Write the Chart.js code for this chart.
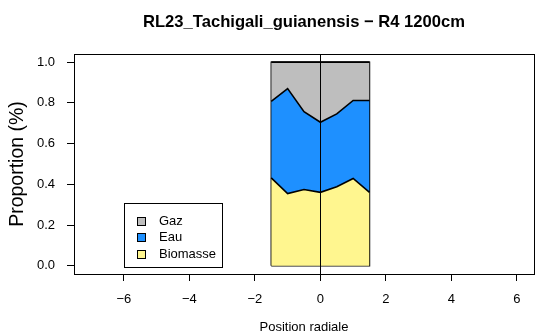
<!DOCTYPE html>
<html>
<head>
<meta charset="utf-8">
<script src="https://cdn.jsdelivr.net/npm/chart.js@4/dist/chart.umd.min.js"></script>
<style>
  html, body { margin: 0; padding: 0; background: #fff; }
  #wrap { width: 540px; height: 334px; }
</style>
</head>
<body>
<div id="wrap"><canvas id="c" width="540" height="334"></canvas></div>
<script>
// radial positions of the samples
const positions = [-1.5, -1, -0.5, 0, 0.5, 1, 1.5];
// proportions of each component at those positions
const biomasse = [0.432, 0.355, 0.375, 0.361, 0.388, 0.429, 0.361];
const eau      = [0.375, 0.515, 0.382, 0.344, 0.358, 0.383, 0.451];
const gaz      = [0.193, 0.130, 0.243, 0.295, 0.254, 0.188, 0.188];

const xTicks = [-6, -4, -2, 0, 2, 4, 6];
const yTicks = [0, 0.2, 0.4, 0.6, 0.8, 1.0];
const xRange = [-7.52, 6.52];
const yRange = [-0.04, 1.04];

const titre = 'RL23_Tachigali_guianensis \u2212 R4 1200cm';
const legende = [
  { label: 'Gaz', color: '#BEBEBE' },
  { label: 'Eau', color: '#1E90FF' },
  { label: 'Biomasse', color: '#FFF68F' },
];

const FONT = '"Liberation Sans", Arial, Helvetica, sans-serif';

// running totals so each layer sits on the one below
function cumul(layers){
  const out = [];
  let acc = positions.map(() => 0);
  for (const l of layers){
    acc = acc.map((v, i) => v + l[i]);
    out.push(acc.slice());
  }
  return out;
}
const [topBio, topEau, topGaz] = cumul([biomasse, eau, gaz]);
const pts = (ys) => positions.map((x, i) => ({ x, y: ys[i] }));

const x0 = positions[0], x1 = positions[positions.length - 1];
const cadre = [{x:x0,y:0},{x:x0,y:topGaz[0]},{x:x1,y:topGaz[topGaz.length-1]},{x:x1,y:0},{x:x0,y:0}];

const layer = (label, data, color, fill) => ({
  label, data, fill,
  backgroundColor: color,
  borderColor: '#000',
  borderWidth: 1.6,
  pointRadius: 0,
  tension: 0,
});

// box, vertical reference line, titles and legend, R style
const decor = {
  id: 'decor',
  afterDatasetsDraw(chart){
    const { ctx, chartArea: a, scales } = chart;
    ctx.save();
    ctx.strokeStyle = '#000';
    ctx.lineWidth = 1;
    const xz = Math.round(scales.x.getPixelForValue(0)) + 0.5;
    ctx.beginPath(); ctx.moveTo(xz, a.top); ctx.lineTo(xz, a.bottom); ctx.stroke();
    ctx.strokeRect(Math.round(a.left) + 0.5, Math.round(a.top) + 0.5, Math.round(a.right - a.left), Math.round(a.bottom - a.top));

    // legend
    const lx = 124.5, ly = 203.5, lw = 98, lh = 64;
    ctx.fillStyle = '#fff';
    ctx.fillRect(lx, ly, lw, lh);
    ctx.strokeRect(lx, ly, lw, lh);
    ctx.font = '13px ' + FONT;
    ctx.textBaseline = 'middle';
    ctx.textAlign = 'left';
    legende.forEach((it, i) => {
      const cy = 220.5 + i * 16.5;
      ctx.fillStyle = it.color;
      ctx.fillRect(137.5, Math.round(cy - 4) + 0.5, 8, 8);
      ctx.strokeRect(137.5, Math.round(cy - 4) + 0.5, 8, 8);
      ctx.fillStyle = '#000';
      ctx.fillText(it.label, 159, cy + 0.5);
    });

    const cx = (a.left + a.right) / 2;
    ctx.textAlign = 'center';
    ctx.font = 'bold 16.6px ' + FONT;
    ctx.fillText(titre, cx, 22);
    ctx.font = '13px ' + FONT;
    ctx.fillText('Position radiale', cx, 327);
    ctx.translate(18, (a.top + a.bottom) / 2);
    ctx.rotate(-Math.PI / 2);
    ctx.font = '19.5px ' + FONT;
    ctx.fillText('Proportion (%)', 0, 0);
    ctx.restore();
  }
};

const axisCommon = {
  type: 'linear',
  grid: { drawOnChartArea: false, drawTicks: true, tickLength: 7, color: '#000', lineWidth: 1 },
  border: { display: true, color: '#000', width: 1 },
  ticks: { color: '#000', font: { family: FONT, size: 13 } },
};

new Chart(document.getElementById('c'), {
  type: 'line',
  data: {
    datasets: [
      layer('Biomasse', pts(topBio), legende[2].color, 'origin'),
      layer('Eau', pts(topEau), legende[1].color, '-1'),
      layer('Gaz', pts(topGaz), legende[0].color, '-1'),
      { label: 'cadre', data: cadre, fill: false, borderColor: '#000', borderWidth: 1.4, pointRadius: 0, tension: 0 },
    ]
  },
  options: {
    responsive: false,
    animation: false,
    layout: { padding: { left: 0, right: 6, top: 54, bottom: 0 } },
    plugins: { legend: { display: false }, tooltip: { enabled: false } },
    scales: {
      x: {
        ...axisCommon,
        min: xRange[0], max: xRange[1],
        afterBuildTicks: (s) => { s.ticks = xTicks.map(v => ({ value: v })); },
        afterFit: (s) => { s.height = 60; },
        ticks: { ...axisCommon.ticks, padding: 11, maxRotation: 0,
          callback: (v) => String(v).replace('-', '\u2212') },
      },
      y: {
        ...axisCommon,
        min: yRange[0], max: yRange[1],
        afterBuildTicks: (s) => { s.ticks = yTicks.map(v => ({ value: v })); },
        afterFit: (s) => { s.width = 74; },
        ticks: { ...axisCommon.ticks, padding: 12, callback: (v) => v.toFixed(1) },
      },
    },
  },
  plugins: [decor],
});
</script>
</body>
</html>
